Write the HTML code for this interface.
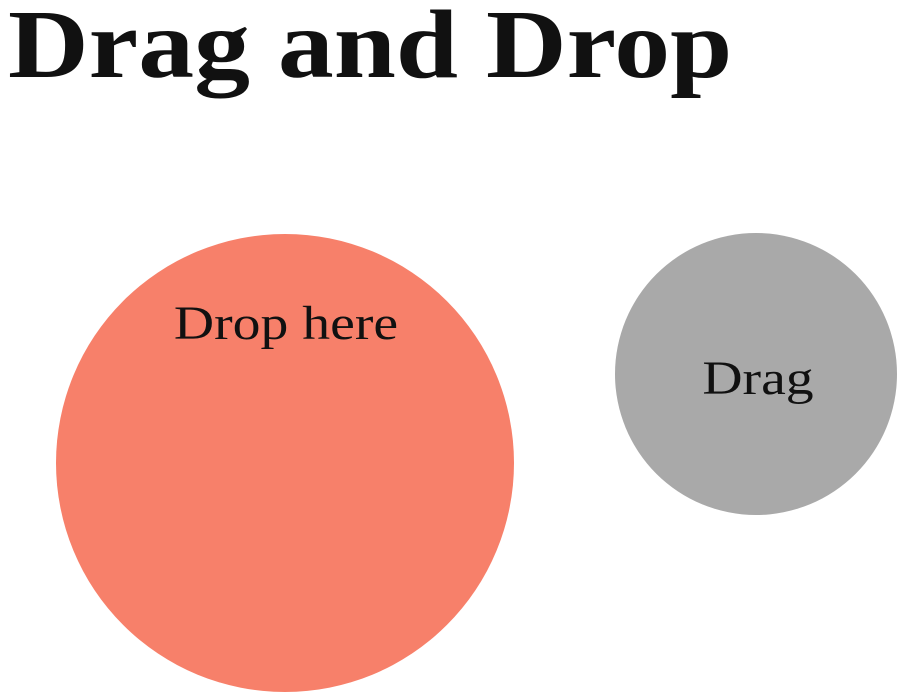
<!DOCTYPE html>
<html>
<head>
<meta charset="utf-8">
<style>
  html, body { margin: 0; padding: 0; background: #fff; }
  body { width: 899px; height: 694px; position: relative; overflow: hidden;
         font-family: "Liberation Serif", serif; color: #111; }
  h1 { position: absolute; left: 8px; top: -11px; margin: 0; font-size: 98px; font-weight: bold; white-space: nowrap;
       transform: scaleX(1.14); transform-origin: left top; }
  .circle { position: absolute; border-radius: 50%; }
  #drop { left: 56px; top: 234px; width: 458px; height: 458px; background: #f7806a; }
  #drag { left: 615px; top: 233px; width: 282px; height: 282px; background: #a9a9a9; }
  .label { position: absolute; width: 100%; text-align: center; font-size: 48px; transform: scaleX(1.16); }
  #drop .label { top: 62px; left: 1px; }
  #drag .label { top: 118px; left: 2px; }
</style>
</head>
<body>
  <h1>Drag and Drop</h1>
  <div id="drop" class="circle">
    <div class="label">Drop here</div>
  </div>
  <div id="drag" class="circle" draggable="true">
    <div class="label">Drag</div>
  </div>
</body>
</html>
